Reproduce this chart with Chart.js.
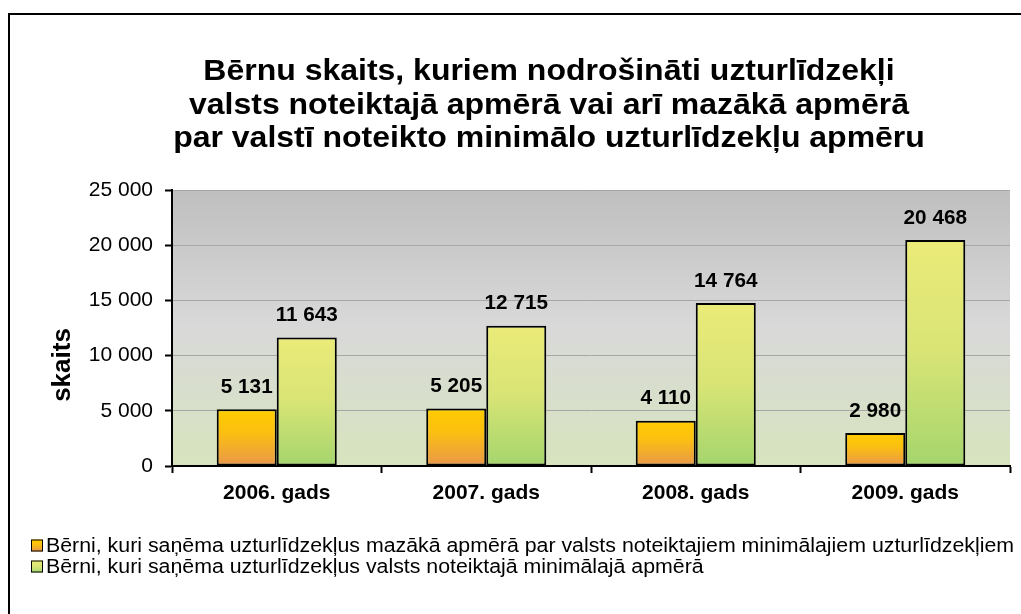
<!DOCTYPE html>
<html>
<head>
<meta charset="utf-8">
<script src="https://cdn.jsdelivr.net/npm/chart.js@4"></script>
<style>
  html, body { margin: 0; padding: 0; background: #fff; }
  #wrap { position: relative; width: 1021px; height: 614px; }
</style>
</head>
<body>
<div id="wrap"><canvas id="chart"></canvas></div>
<script>
const years = ['2006. gads', '2007. gads', '2008. gads', '2009. gads'];
const belowMinimum = [5131, 5205, 4110, 2980];
const atMinimum = [11643, 12715, 14764, 20468];
const seriesNames = [
  'Bērni, kuri saņēma uzturlīdzekļus mazākā apmērā par valsts noteiktajiem minimālajiem uzturlīdzekļiem',
  'Bērni, kuri saņēma uzturlīdzekļus valsts noteiktajā minimālajā apmērā'
];
const titleLines = [
  'Bērnu skaits, kuriem nodrošināti uzturlīdzekļi',
  'valsts noteiktajā apmērā vai arī mazākā apmērā',
  'par valstī noteikto minimālo uzturlīdzekļu apmēru'
];
const yTitle = 'skaits';
const yMax = 25000;
const yStep = 5000;

const FONT = "'Liberation Sans', Arial, sans-serif";
// the original text is a little wider than the font
const SX = 1.066;

const orangeStops = [[0, '#ffcc00'], [0.4, '#fbc010'], [1, '#e9974a']];
const greenStops = [[0, '#ebeb78'], [0.5, '#d8e475'], [1, '#a4d56d']];

function fmt(v) {
  return String(v).replace(/\B(?=(\d{3})+(?!\d))/g, ' ');
}

function wideText(ctx, text, x, y, sx) {
  ctx.save();
  ctx.translate(x, y);
  ctx.scale(sx, 1);
  ctx.fillText(text, 0, 0);
  ctx.restore();
}

function barGradient(stops) {
  return (c) => {
    const chart = c.chart;
    if (!chart.chartArea || c.type !== 'data') return stops[0][1];
    const y = chart.scales.y;
    const top = y.getPixelForValue(c.raw);
    const bottom = y.getPixelForValue(0);
    const g = chart.ctx.createLinearGradient(0, top, 0, bottom);
    stops.forEach(([o, col]) => g.addColorStop(o, col));
    return g;
  };
}

const decor = {
  id: 'decor',
  beforeDraw(chart) {
    const ctx = chart.ctx;
    const a = chart.chartArea;
    ctx.save();
    // frame
    ctx.strokeStyle = '#000';
    ctx.lineWidth = 2;
    ctx.beginPath();
    ctx.moveTo(9, 614);
    ctx.lineTo(9, 14);
    ctx.lineTo(1021, 14);
    ctx.stroke();
    // plot background
    const g = ctx.createLinearGradient(0, a.top, 0, a.bottom);
    g.addColorStop(0, '#bfbfbf');
    g.addColorStop(0.5, '#d9d9d9');
    g.addColorStop(1, '#d7e4bd');
    ctx.fillStyle = g;
    ctx.fillRect(a.left, a.top, a.right - a.left, a.bottom - a.top);
    // title
    ctx.fillStyle = '#000';
    ctx.font = 'bold 30px ' + FONT;
    ctx.textAlign = 'center';
    ctx.textBaseline = 'alphabetic';
    titleLines.forEach((t, i) => wideText(ctx, t, 549, 80 + i * 33.5, SX));
    // y title
    ctx.save();
    ctx.translate(70, 365);
    ctx.rotate(-Math.PI / 2);
    ctx.font = 'bold 26px ' + FONT;
    ctx.fillText(yTitle, 0, 0);
    ctx.restore();
    ctx.restore();
  },
  afterDatasetsDraw(chart) {
    const ctx = chart.ctx;
    ctx.save();
    ctx.fillStyle = '#000';
    ctx.font = 'bold 20px ' + FONT;
    ctx.textAlign = 'center';
    ctx.textBaseline = 'middle';
    chart.data.datasets.forEach((ds, di) => {
      chart.getDatasetMeta(di).data.forEach((bar, i) => {
        wideText(ctx, fmt(ds.data[i]), bar.x, bar.y - 22, 1.035);
      });
    });
    // legend
    ctx.textAlign = 'left';
    ctx.font = '20px ' + FONT;
    chart.data.datasets.forEach((ds, di) => {
      const cy = 545.5 + di * 21;
      const g = ctx.createLinearGradient(0, cy - 6, 0, cy + 6);
      ds.stops.forEach(([o, col]) => g.addColorStop(o, col));
      ctx.fillStyle = g;
      ctx.fillRect(31, cy - 6, 12, 12);
      ctx.strokeStyle = '#000';
      ctx.lineWidth = 1;
      ctx.strokeRect(31.5, cy - 5.5, 11, 11);
      ctx.fillStyle = '#000';
      wideText(ctx, ds.label, 46, cy + 1, SX);
    });
    ctx.restore();
  }
};

new Chart(document.getElementById('chart'), {
  type: 'bar',
  data: {
    labels: years,
    datasets: [
      {
        label: seriesNames[0],
        data: belowMinimum,
        stops: orangeStops,
        backgroundColor: barGradient(orangeStops),
        borderColor: '#000',
        borderWidth: 2,
        borderSkipped: false
      },
      {
        label: seriesNames[1],
        data: atMinimum,
        stops: greenStops,
        backgroundColor: barGradient(greenStops),
        borderColor: '#000',
        borderWidth: 2,
        borderSkipped: false
      }
    ]
  },
  options: {
    responsive: true,
    maintainAspectRatio: false,
    animation: false,
    layout: { padding: { top: 190, right: 11, left: 0, bottom: 0 } },
    datasets: {
      bar: { categoryPercentage: 0.573, barPercentage: 1 }
    },
    plugins: {
      legend: { display: false },
      title: { display: false },
      tooltip: { enabled: false }
    },
    scales: {
      x: {
        afterFit: (s) => { s.height = 148; },
        grid: {
          drawOnChartArea: false,
          drawTicks: true,
          tickLength: 7,
          tickColor: '#000',
          tickWidth: 2
        },
        border: { color: '#000', width: 2 },
        ticks: {
          color: '#000',
          padding: 8,
          font: { family: FONT, size: 21, weight: 'bold' }
        }
      },
      y: {
        min: 0,
        max: yMax,
        afterFit: (s) => { s.width = 172; },
        grid: {
          color: '#a6a6a6',
          lineWidth: 1,
          tickLength: 7,
          tickColor: '#000',
          tickWidth: 2
        },
        border: { color: '#000', width: 2 },
        ticks: {
          stepSize: yStep,
          color: '#000',
          padding: 12,
          font: { family: FONT, size: 21 },
          callback: (v) => fmt(v)
        }
      }
    }
  },
  plugins: [decor]
});
</script>
</body>
</html>
